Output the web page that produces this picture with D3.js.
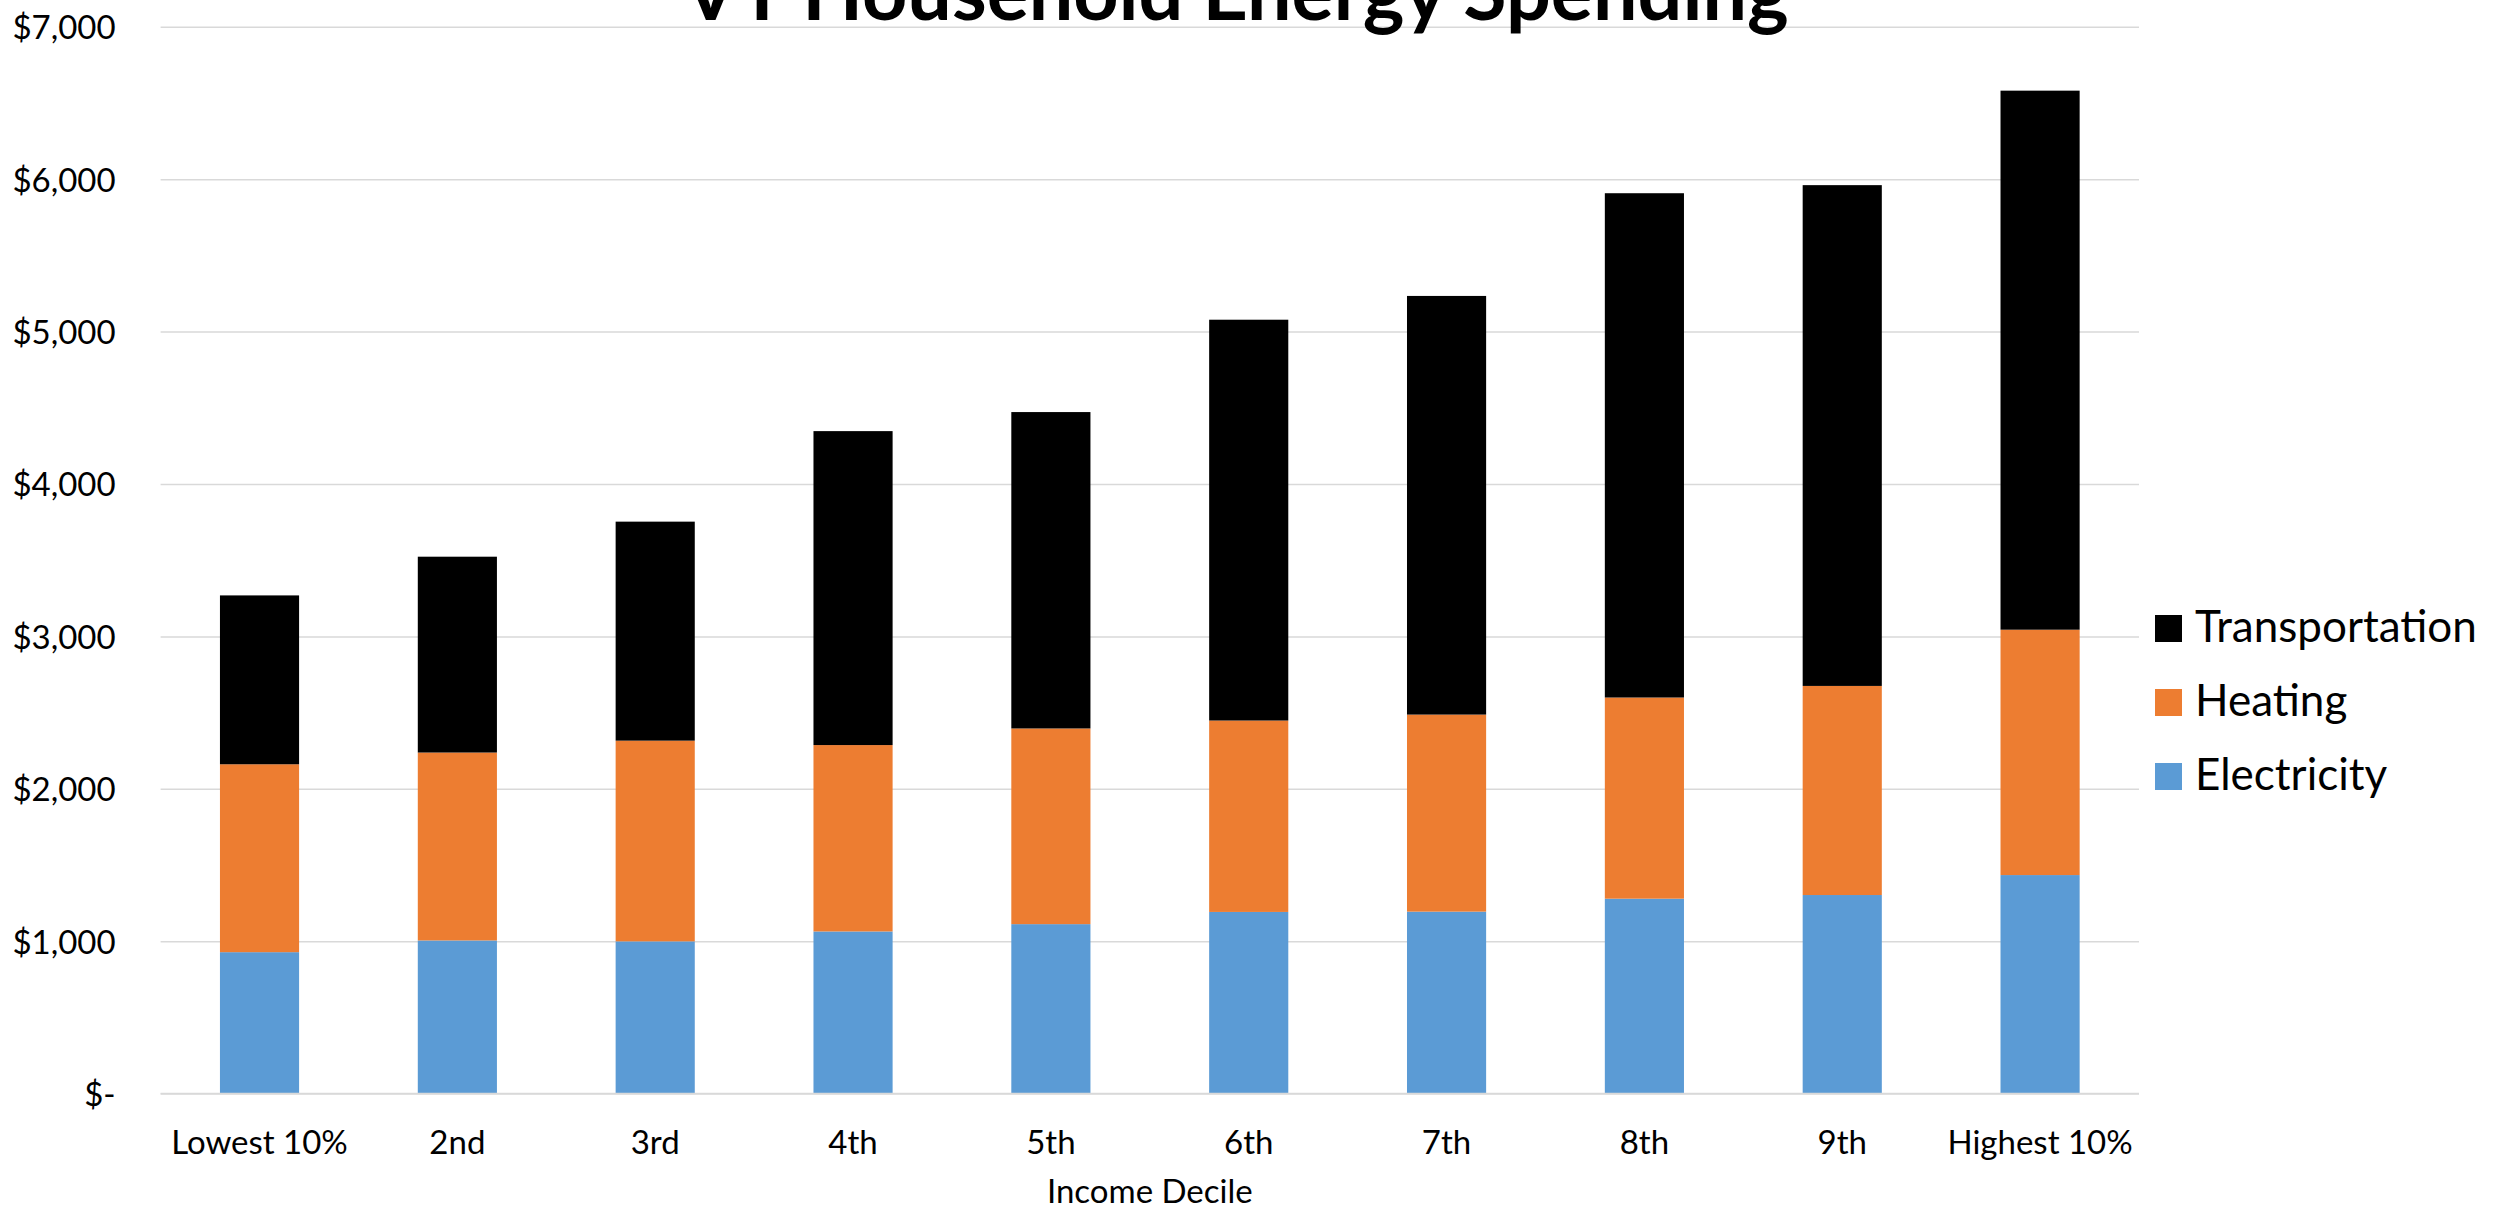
<!DOCTYPE html>
<html>
<head>
<meta charset="utf-8">
<script src="https://cdn.jsdelivr.net/npm/d3@7"></script>
<style>
  html, body { margin: 0; padding: 0; background: #ffffff; }
  svg { display: block; }
  text { font-family: Lato, "Noto Sans", sans-serif; fill: #000; }
</style>
</head>
<body>
<svg id="chart" width="2494" height="1211"></svg>
<script>
const categories = ["Lowest 10%", "2nd", "3rd", "4th", "5th", "6th", "7th", "8th", "9th", "Highest 10%"];
const seriesNames = ["Electricity", "Heating", "Transportation"];
const electricity = [928, 1005, 999, 1064, 1112, 1192, 1194, 1279, 1303, 1434];
const heating = [1233, 1233, 1317, 1223, 1284, 1256, 1293, 1320, 1372, 1610];
const transportation = [1108, 1285, 1437, 2060, 2076, 2630, 2747, 3309, 3286, 3537];
const yTicks = [0, 1000, 2000, 3000, 4000, 5000, 6000, 7000];
const colors = { "Electricity": "#5B9BD5", "Heating": "#ED7D31", "Transportation": "#000000" };
const legendOrder = ["Transportation", "Heating", "Electricity"];
const titleText = "VT Household Energy Spending";
const xTitle = "Income Decile";

const W = 2494, H = 1211;
const plot = { left: 160.6, right: 2139, top: 26.8, bottom: 1093.6 };

const rows = categories.map((c, i) => ({
  category: c,
  Electricity: electricity[i],
  Heating: heating[i],
  Transportation: transportation[i]
}));

const svg = d3.select("#chart");

const x = d3.scaleBand().domain(categories).range([plot.left, plot.right])
  .paddingInner(0.6).paddingOuter(0.3);
const y = d3.scaleLinear().domain([0, 7000]).range([plot.bottom, plot.top]);

const fmt = v => v === 0 ? "$-" : "$" + d3.format(",")(v);

// Y axis with gridlines
const yAxis = svg.append("g")
  .attr("transform", `translate(${plot.left},0)`)
  .call(d3.axisLeft(y).tickValues(yTicks).tickFormat(fmt)
    .tickSize(-(plot.right - plot.left)).tickPadding(45));
yAxis.select(".domain").remove();
yAxis.selectAll(".tick line").attr("stroke", "#d9d9d9").attr("stroke-width", 1.5);
yAxis.selectAll(".tick text").attr("font-size", 33).attr("font-family", "Lato").attr("fill", "#000").attr("dy", "0.36em");

// Bars
const stack = d3.stack().keys(seriesNames);
const stacked = stack(rows);
svg.append("g").selectAll("g")
  .data(stacked).join("g")
  .attr("fill", d => colors[d.key])
  .selectAll("rect")
  .data(d => d).join("rect")
  .attr("x", d => x(d.data.category))
  .attr("width", x.bandwidth())
  .attr("y", d => y(d[1]))
  .attr("height", d => y(d[0]) - y(d[1]));

// X axis
const xAxis = svg.append("g")
  .attr("transform", `translate(0,${plot.bottom})`)
  .call(d3.axisBottom(x).tickSize(0));
xAxis.select(".domain").attr("stroke", "#d9d9d9").attr("stroke-width", 1.5)
  .attr("d", `M${plot.left},0H${plot.right}`);
xAxis.selectAll(".tick text").attr("font-size", 33).attr("font-family", "Lato")
  .attr("fill", "#000").attr("y", 60.4).attr("dy", 0);

// Axis title
svg.append("text").attr("x", (plot.left + plot.right) / 2).attr("y", 1203)
  .attr("text-anchor", "middle").attr("font-size", 33).text(xTitle);

// Chart title (cut off at the top edge, as in the reference)
svg.append("text").attr("x", 1236).attr("y", 20)
  .attr("text-anchor", "middle").attr("font-size", 79).attr("font-weight", "bold")
  .text(titleText);

// Legend
const legend = svg.append("g");
const legendY = d3.scalePoint().domain(legendOrder).range([642, 790]);
legendOrder.forEach(k => {
  const g = legend.append("g");
  g.append("rect").attr("x", 2155).attr("y", legendY(k) - 27).attr("width", 27).attr("height", 27)
    .attr("fill", colors[k]);
  g.append("text").attr("x", 2195).attr("y", legendY(k)).attr("font-size", 44).text(k);
});
</script>
</body>
</html>
